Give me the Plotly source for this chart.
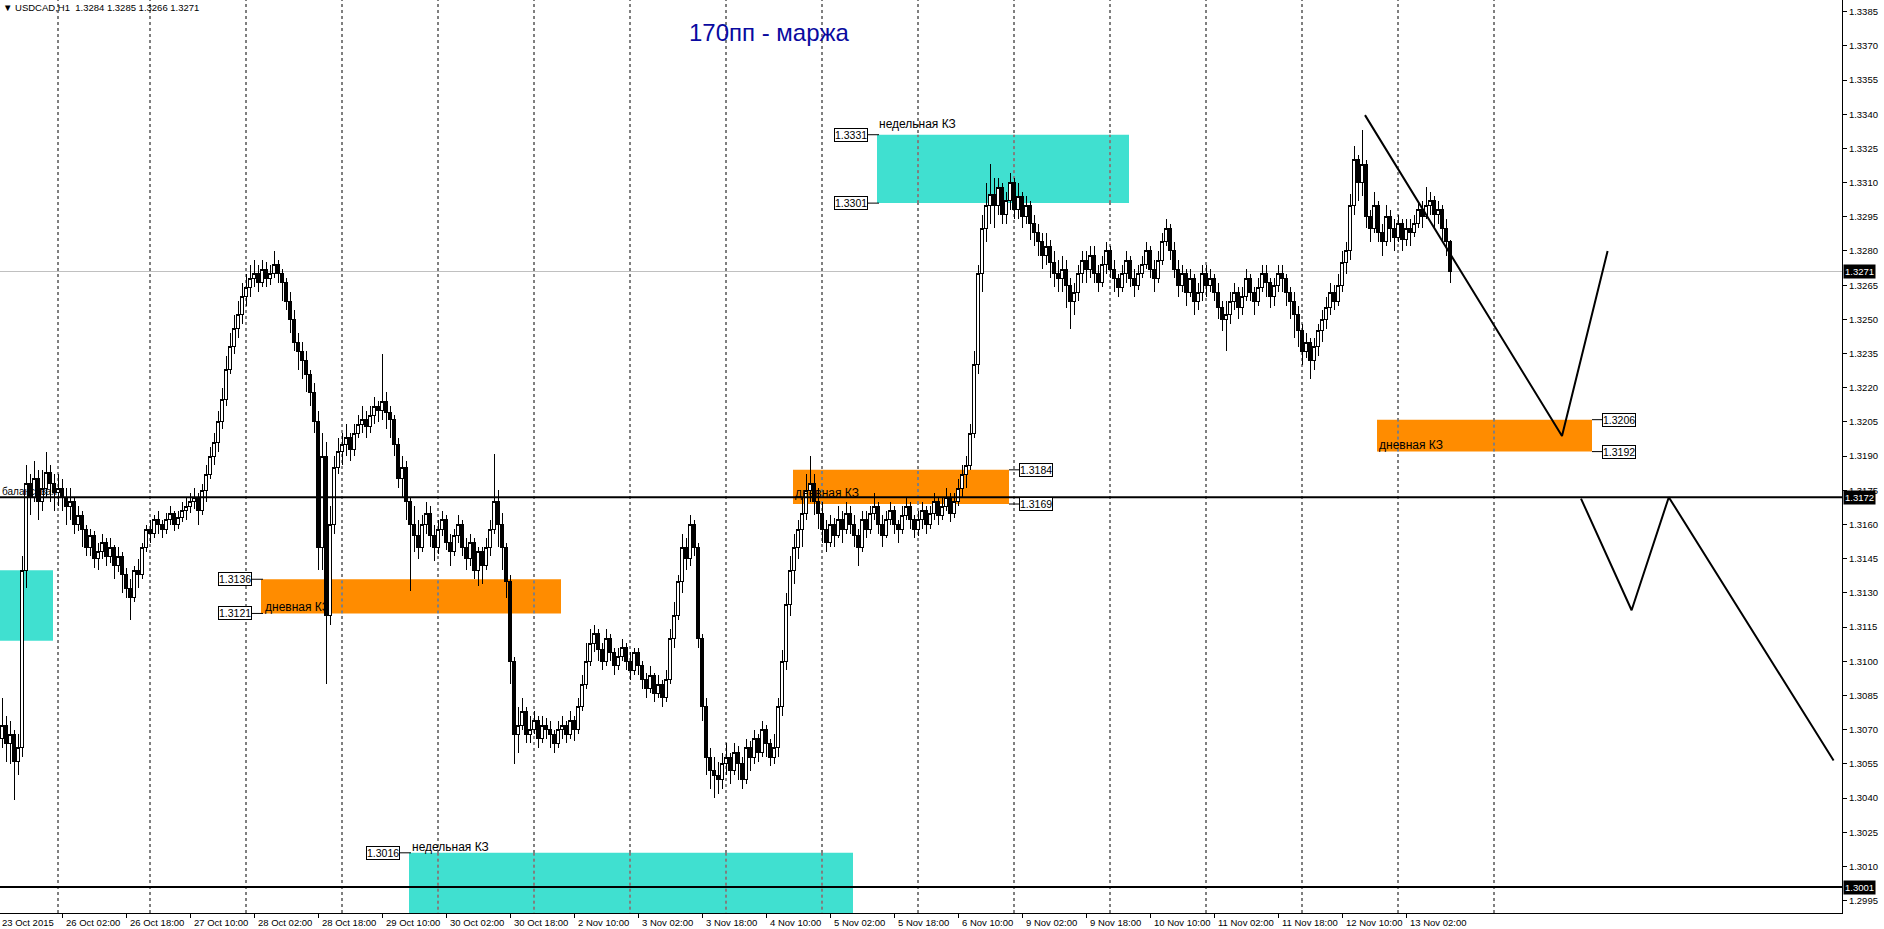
import plotly.graph_objects as go

# ---------------- DATA (prices in pips above 1.3000) ----------------
BASE = 1.3000
PIP = 0.0001
first_open = 66
close_p = [
    72, 64, 68, 56, 62, 140, 178,
    172, 180, 170, 176, 183, 178, 174,
    176, 172, 168, 170, 160, 164, 158,
    150, 155, 145, 148, 152, 146, 150, 142, 146, 138,
    132, 128, 140, 138, 150,
    158, 156, 162, 160, 158, 162, 165, 160, 163, 166,
    168, 170, 172, 166, 175,
    182, 190, 196, 205, 215, 228, 238, 246, 252, 260, 264, 268,
    270, 266, 272, 268, 270, 274, 270, 266,
    258, 250, 240, 236, 232, 226,
    218, 205, 150, 190, 120, 160, 185, 192,
    195, 198, 193, 200, 204, 206, 203, 208, 212, 210, 214, 209, 206,
    195, 180, 185, 170, 160, 155, 150,
    160, 165, 155, 150, 158, 162, 152, 148, 155, 160, 150, 145, 152, 140, 148, 142,
    150, 158, 170, 160,
    150, 135, 100, 68,
    72, 78, 68, 70, 74, 66, 72, 70, 68, 64, 70, 72, 68, 74, 70,
    80, 90, 100, 108, 112, 105, 100, 110, 104, 98, 102, 106,
    100, 96, 104, 98, 92, 88, 94, 86, 90, 84, 92,
    110, 120, 135, 150, 145, 160, 150,
    110, 80, 58, 52, 50, 48,
    55, 58, 52, 60, 55, 48, 62, 58, 66, 60, 70, 64, 58, 62,
    80, 100, 125, 140, 150, 158, 165,
    175, 178, 170, 165, 158, 152, 160, 155, 162,
    158, 165, 160, 155, 150, 162, 158, 165, 168, 160, 155, 162, 166, 160, 158, 164, 168, 162, 158,
    162, 166, 160, 165, 170, 164, 168, 172, 165, 170, 176, 182,
    186, 200, 230, 270, 290, 300, 305,
    300, 308, 296, 302, 310, 298, 304, 295, 300, 292,
    288, 284, 278, 282, 275, 270, 268, 272, 265, 258, 262, 270, 276,
    272, 278, 270, 266, 274, 280, 272, 268, 264, 270, 276, 268, 265, 270, 274, 280, 272, 268, 276, 284,
    290, 280, 272, 265, 270, 262, 268, 258, 262, 270, 265, 268, 262, 255, 250,
    252, 258, 262, 255, 260, 268, 262, 258, 264, 270, 266, 260, 265, 270, 268, 262, 258,
    252, 245, 236, 240, 232, 238, 245,
    250, 255, 262, 258, 265, 275, 280,
    300, 320, 310, 318, 295,
    290, 300, 288, 284, 295, 290, 286, 292, 285, 290, 288,
    292, 298, 295, 300, 302, 296, 298, 290, 284, 271,
]
high_p = [
    84, 76, 74, 70, 68, 146, 186,
    182, 188, 184, 184, 192, 186, 182,
    182, 180, 176, 176, 172, 168, 166,
    160, 158, 157, 152, 156, 154, 154, 151, 150, 148,
    141, 136, 142, 145, 152,
    160, 162, 164, 166, 162, 165, 168, 166, 166, 170,
    172, 174, 176, 174, 178,
    186, 194, 200, 210, 220, 234, 244, 252, 258, 266, 270, 274,
    276, 274, 276, 275, 274, 280, 276, 272,
    268, 262, 254, 244, 240, 236,
    228, 222, 210, 200, 196, 168, 190, 198,
    200, 204, 200, 204, 208, 212, 210, 212, 216, 214, 235, 218, 212,
    208, 198, 190, 188, 172, 168, 162,
    164, 170, 168, 160, 162, 166, 164, 156, 158, 164, 162, 154, 156, 154, 150, 150,
    154, 162, 191, 175,
    165, 152, 138, 102,
    80, 84, 80, 76, 78, 76, 76, 75, 74, 70, 74, 76, 74, 78, 76,
    84, 94, 108, 114, 116, 114, 108, 114, 112, 106, 106, 110,
    108, 104, 106, 106, 100, 95, 98, 95, 94, 92, 96,
    114, 126, 138, 156, 154, 164, 162,
    152, 112, 84, 62, 58, 56,
    60, 64, 60, 64, 63, 58, 66, 65, 70, 68, 74, 72, 66, 68,
    84, 105, 130, 146, 156, 162, 172,
    182, 190, 182, 176, 170, 162, 164, 163, 168,
    166, 170, 168, 164, 158, 166, 166, 168, 174, 170, 164, 166, 170, 168, 162, 168, 172, 170, 164,
    166, 170, 168, 168, 174, 172, 172, 176, 174, 174, 180, 186,
    190, 204, 236, 274, 296, 310, 318,
    312, 312, 310, 306, 314, 312, 310, 306, 304, 302,
    296, 292, 288, 288, 285, 280, 276, 278, 276, 268, 266, 274, 280,
    280, 282, 282, 274, 278, 284, 282, 276, 270, 274, 280, 278, 272, 274, 278, 284, 282, 276, 280, 288,
    294, 292, 284, 276, 274, 272, 272, 270, 266, 274, 274, 272, 270, 266, 258,
    258, 262, 266, 264, 264, 272, 270, 264, 268, 274, 274, 268, 268, 274, 274, 270, 264,
    262, 256, 248, 244, 242, 242, 248,
    254, 260, 266, 265, 270, 280, 284,
    305, 326, 322, 333, 320,
    298, 306, 302, 292, 300, 298, 294, 296, 294, 294, 294,
    296, 302, 302, 308, 306, 304, 302, 300, 294, 285,
]
low_p = [
    62, 56, 55, 39, 50, 58, 132,
    164, 170, 162, 166, 172, 170, 166,
    168, 166, 160, 162, 156, 157, 150,
    146, 146, 141, 140, 145, 142, 143, 136, 139, 130,
    128, 118, 126, 132, 136,
    148, 152, 154, 156, 154, 156, 160, 157, 158, 161,
    162, 165, 167, 160, 164,
    170, 180, 186, 192, 202, 212, 226, 235, 242, 248, 256, 260,
    264, 262, 264, 264, 265, 268, 266, 258,
    254, 244, 236, 228, 224, 218,
    212, 200, 140, 140, 90, 116, 156, 182,
    186, 190, 188, 190, 198, 200, 198, 200, 204, 205, 206, 202, 198,
    190, 176, 172, 162, 131, 148, 145,
    148, 156, 150, 144, 147, 155, 149, 142, 146, 152, 146, 140, 142, 136, 133, 134,
    140, 146, 156, 150,
    140, 128, 90, 55,
    60, 70, 64, 64, 68, 62, 64, 66, 62, 60, 62, 66, 64, 66, 65,
    68, 78, 88, 98, 104, 100, 96, 98, 100, 94, 96, 100,
    96, 92, 94, 94, 88, 84, 86, 82, 84, 80, 82,
    90, 106, 118, 130, 140, 142, 146,
    106, 74, 50, 44, 40, 42,
    44, 50, 46, 50, 48, 44, 46, 52, 55, 56, 58, 58, 54, 55,
    58, 76, 96, 120, 134, 145, 150,
    162, 170, 164, 158, 152, 148, 150, 150, 154,
    152, 156, 156, 150, 142, 148, 154, 156, 162, 156, 150, 154, 160, 156, 152, 156, 162, 158, 154,
    155, 158, 156, 158, 162, 160, 162, 166, 161, 163, 168, 172,
    176, 184, 198, 226, 262, 284, 292,
    290, 296, 292, 292, 298, 294, 294, 290, 292, 285,
    282, 278, 272, 274, 268, 264, 262, 262, 255, 246, 252, 258, 266,
    266, 268, 266, 262, 264, 270, 268, 262, 260, 262, 266, 264, 260, 263, 268, 272, 268, 262, 266, 274,
    282, 276, 268, 260, 262, 256, 260, 252, 254, 258, 260, 262, 258, 250, 245,
    236, 248, 254, 250, 252, 258, 258, 252, 256, 262, 260, 255, 256, 262, 262, 256, 250,
    242, 238, 230, 233, 224, 228, 234,
    240, 246, 252, 254, 256, 262, 270,
    276, 296, 302, 304, 290,
    284, 288, 284, 278, 282, 284, 280, 284, 280, 282, 282,
    286, 290, 290, 294, 296, 290, 292, 284, 278, 266,
]

x_labels = ["26 Oct 02:00", "26 Oct 18:00", "27 Oct 10:00", "28 Oct 02:00", "28 Oct 18:00",
            "29 Oct 10:00", "30 Oct 02:00", "30 Oct 18:00", "2 Nov 10:00", "3 Nov 02:00",
            "3 Nov 18:00", "4 Nov 10:00", "5 Nov 02:00", "5 Nov 18:00", "6 Nov 10:00",
            "9 Nov 02:00", "9 Nov 18:00", "10 Nov 10:00", "11 Nov 02:00", "11 Nov 18:00",
            "12 Nov 10:00", "13 Nov 02:00"]
x_label_bars = [15 + 16 * k for k in range(len(x_labels))]
first_label = "23 Oct 2015"
day_sep_bars = [14] + [37 + 24 * k for k in range(15)]

y_ticks = [round(1.2995 + 0.0015 * k, 4) for k in range(27)]

# zones: (x0 bar, x1 bar, price low, price high, kind)
zones = [
    (-3, 12.75, 1.3109, 1.3140, "w"),
    (218.75, 281.75, 1.3301, 1.3331, "w"),
    (101.75, 212.75, 1.2970, 1.3016, "w"),
    (64.75, 139.75, 1.3121, 1.3136, "d"),
    (197.75, 251.75, 1.3169, 1.3184, "d"),
    (343.75, 397.5, 1.3192, 1.3206, "d"),
]
# price tags: (bar, price, text, side)
tags = [
    (218.75, 1.3331, "1.3331", "L"),
    (218.75, 1.3301, "1.3301", "L"),
    (101.75, 1.3016, "1.3016", "L"),
    (64.75, 1.3136, "1.3136", "L"),
    (64.75, 1.3121, "1.3121", "L"),
    (251.75, 1.3184, "1.3184", "R"),
    (251.75, 1.3169, "1.3169", "R"),
    (397.5, 1.3206, "1.3206", "R"),
    (397.5, 1.3192, "1.3192", "R"),
]
# zone captions: (bar, price, text)
captions = [
    (-1.5, 1.31440, "недельная КЗ"),
    (218.75, 1.33357, "недельная КЗ"),
    (102.0, 1.30185, "недельная КЗ"),
    (65.25, 1.31238, "дневная КЗ"),
    (197.75, 1.31739, "дневная КЗ"),
    (343.75, 1.31948, "дневная КЗ"),
]
proj1_x = [340.75, 390.0, 401.4]
proj1_y = [1.33396, 1.31988, 1.32800]
proj2_x = [394.75, 407.4, 416.7, 457.9]
proj2_y = [1.31714, 1.31224, 1.31720, 1.30565]

level_balance = 1.3172
level_low = 1.3001
bid = 1.3271

# ---------------- BUILD ----------------
n = min(len(close_p), len(high_p), len(low_p))
closes = [BASE + v * PIP for v in close_p[:n]]
opens = [BASE + first_open * PIP] + closes[:-1]
highs = [max(BASE + h * PIP, o, c) for h, o, c in zip(high_p[:n], opens, closes)]
lows = [min(BASE + l * PIP, o, c) for l, o, c in zip(low_p[:n], opens, closes)]
xs = list(range(n))

FONT = "Liberation Sans"
TURQ = "#40E0D0"
ORANGE = "#FF8C00"

fig = go.Figure()
fig.add_trace(go.Candlestick(
    x=xs, open=opens, high=highs, low=lows, close=closes,
    increasing=dict(line=dict(color="black", width=1), fillcolor="white"),
    decreasing=dict(line=dict(color="black", width=1), fillcolor="black"),
    whiskerwidth=0, hoverinfo="skip", showlegend=False,
))
fig.add_trace(go.Scatter(x=proj1_x, y=proj1_y, mode="lines",
                         line=dict(color="black", width=2), hoverinfo="skip", showlegend=False))
fig.add_trace(go.Scatter(x=proj2_x, y=proj2_y, mode="lines",
                         line=dict(color="black", width=2), hoverinfo="skip", showlegend=False))

shapes = []
for b in day_sep_bars:
    shapes.append(dict(type="line", xref="x", yref="paper", x0=b, x1=b, y0=0, y1=1,
                       line=dict(color="black", width=1, dash="3px,3px"), layer="below"))
for x0, x1, p0, p1, kind in zones:
    shapes.append(dict(type="rect", xref="x", yref="y", x0=x0, x1=x1, y0=p0, y1=p1,
                       fillcolor=TURQ if kind == "w" else ORANGE, line=dict(width=0), layer="below"))
for x0, x1, p0, p1, kind in zones:
    col = "#BF1F2F" if kind == "w" else "#0073FF"
    for b in day_sep_bars:
        if x0 < b < x1:
            shapes.append(dict(type="line", xref="x", yref="y", x0=b, x1=b, y0=p0, y1=p1,
                               line=dict(color=col, width=1, dash="3px,3px"), layer="below"))
shapes.append(dict(type="line", xref="paper", yref="y", x0=0, x1=1, y0=bid, y1=bid,
                   line=dict(color="#C0C0C0", width=1), layer="below"))
for lv in (level_balance, level_low):
    shapes.append(dict(type="line", xref="paper", yref="y", x0=0, x1=1, y0=lv, y1=lv,
                       line=dict(color="black", width=2), layer="above"))

annotations = []
for b, p, t, side in tags:
    if side == "L":
        shapes.append(dict(type="line", xref="x", yref="y", xsizemode="pixel", xanchor=b,
                           x0=-9, x1=2, y0=p, y1=p, line=dict(color="black", width=1), layer="above"))
        annotations.append(dict(x=b, y=p, xref="x", yref="y", text=t, showarrow=False,
                                xanchor="right", yanchor="middle", xshift=-9,
                                bgcolor="white", bordercolor="black", borderwidth=1, borderpad=0,
                                font=dict(family=FONT, size=10.5, color="black")))
    else:
        shapes.append(dict(type="line", xref="x", yref="y", xsizemode="pixel", xanchor=b,
                           x0=0, x1=10, y0=p, y1=p, line=dict(color="black", width=1), layer="above"))
        annotations.append(dict(x=b, y=p, xref="x", yref="y", text=t, showarrow=False,
                                xanchor="left", yanchor="middle", xshift=10,
                                bgcolor="white", bordercolor="black", borderwidth=1, borderpad=0,
                                font=dict(family=FONT, size=10.5, color="black")))
for b, p, t in captions:
    annotations.append(dict(x=b, y=p, xref="x", yref="y", text=t, showarrow=False,
                            xanchor="left", yanchor="middle",
                            font=dict(family=FONT, size=12, color="black")))

# axis black price boxes
for lv, t in ((bid, "1.3271"), (level_balance, "1.3172"), (level_low, "1.3001")):
    annotations.append(dict(x=1, y=lv, xref="paper", yref="y", text=t, showarrow=False,
                            xanchor="left", yanchor="middle", xshift=1,
                            bgcolor="black", borderpad=1,
                            font=dict(family=FONT, size=9.5, color="white")))

# x labels
for b, t in zip(x_label_bars, x_labels):
    annotations.append(dict(x=b, y=0, xref="x", yref="paper", text=t, showarrow=False,
                            xanchor="left", yanchor="top", xshift=2, yshift=-2,
                            font=dict(family=FONT, size=9.5, color="black")))
annotations.append(dict(x=-0.5, y=0, xref="x", yref="paper", text=first_label, showarrow=False,
                        xanchor="left", yanchor="top", xshift=0, yshift=-2,
                        font=dict(family=FONT, size=9.5, color="black")))

annotations.append(dict(x=0, y=1, xref="paper", yref="paper",
                        text="▼ USDCAD,H1  1.3284 1.3285 1.3266 1.3271", showarrow=False,
                        xanchor="left", yanchor="top", xshift=1, yshift=0,
                        font=dict(family=FONT, size=9.5, color="black")))
annotations.append(dict(x=0, y=level_balance, xref="paper", yref="y", text="балансовая",
                        showarrow=False, xanchor="left", yanchor="bottom", xshift=0, yshift=-2,
                        font=dict(family=FONT, size=10, color="black")))
annotations.append(dict(x=0.4175, y=0.964, xref="paper", yref="paper", text="170пп - маржа",
                        showarrow=False, xanchor="center", yanchor="middle",
                        font=dict(family=FONT, size=24, color="#0A0AA0")))

fig.update_layout(
    width=1884, height=929,
    margin=dict(l=0, r=42, t=0, b=16),
    paper_bgcolor="white", plot_bgcolor="white",
    showlegend=False,
    boxgap=0.25,
    shapes=shapes, annotations=annotations,
    xaxis=dict(range=[-0.5, 460], showgrid=False, zeroline=False, showline=True,
               linecolor="black", linewidth=1, ticks="outside", ticklen=4, tickcolor="black",
               tickvals=x_label_bars, ticktext=[""] * len(x_label_bars),
               rangeslider=dict(visible=False), fixedrange=True),
    yaxis=dict(range=[1.29896, 1.33901], side="right", showgrid=False, zeroline=False,
               showline=True, linecolor="black", linewidth=1, ticks="outside", ticklen=4,
               tickcolor="black", tickvals=y_ticks, ticktext=[f"{v:.4f}" for v in y_ticks],
               tickfont=dict(family=FONT, size=9.5, color="black"), fixedrange=True),
)

post = ("document.body.style.margin='0';document.body.style.overflow='hidden';"
        "document.querySelectorAll('.boxlayer path').forEach(function(p){p.style.shapeRendering='crispEdges';});")
fig.write_html("out.html", config={"displayModeBar": False}, post_script=post)
